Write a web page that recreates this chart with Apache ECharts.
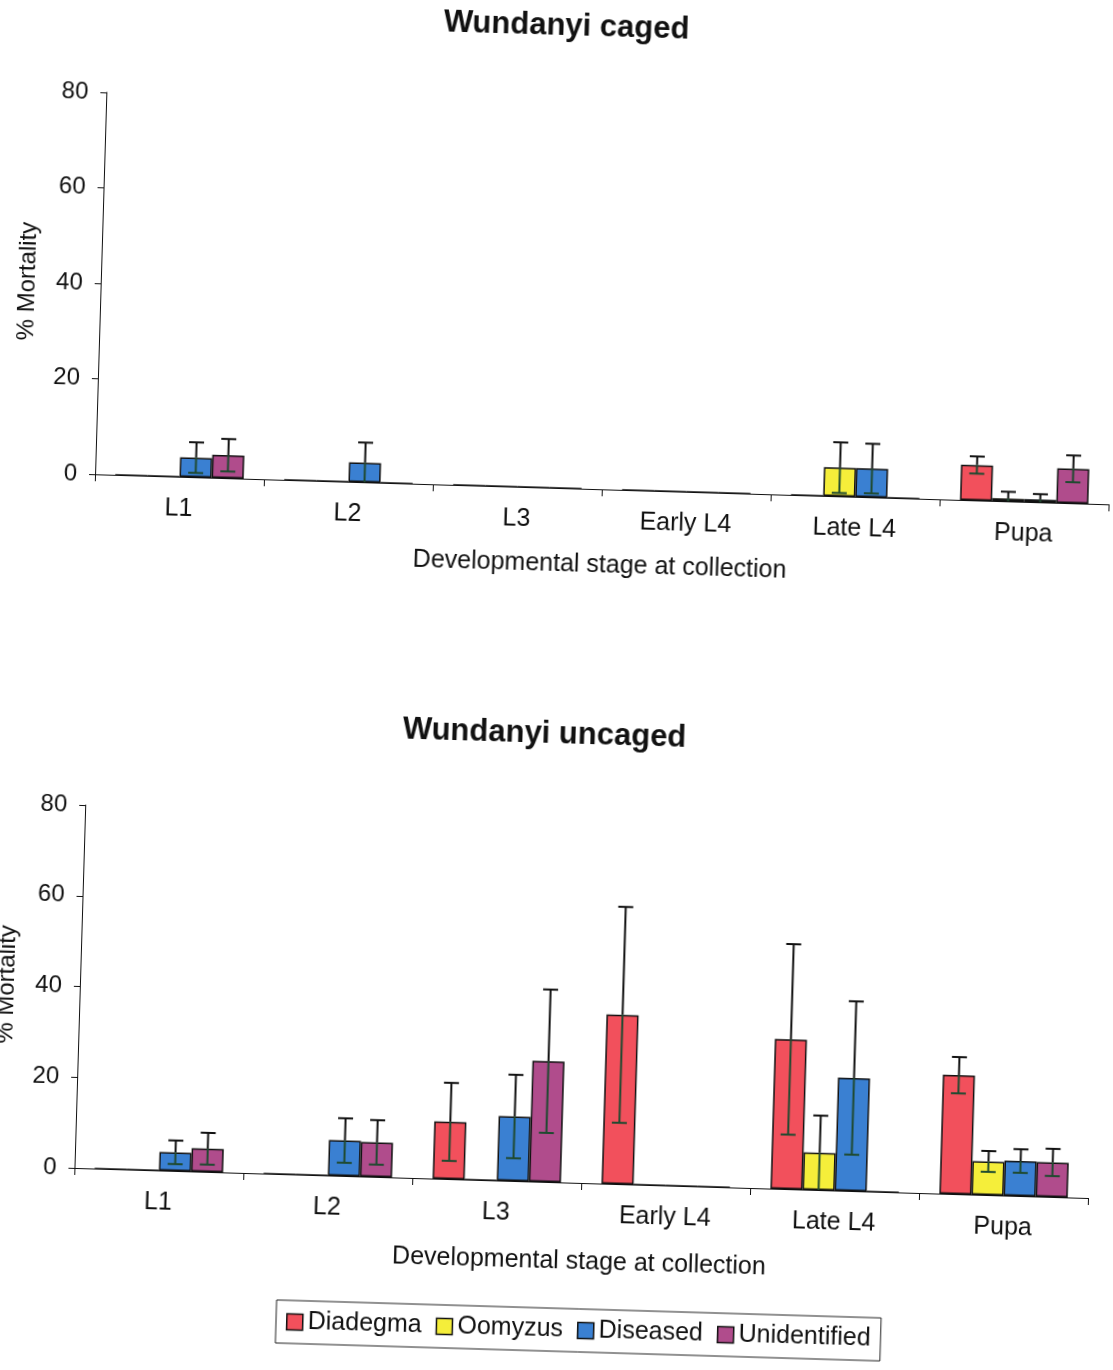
<!DOCTYPE html>
<html>
<head>
<meta charset="utf-8">
<script src="https://cdn.jsdelivr.net/npm/echarts@6/dist/echarts.min.js"></script>
<style>
  html, body { margin: 0; padding: 0; background: #fff; overflow: hidden; }
  #chart { width: 1113px; height: 1370px; transform: rotate(1.7deg); transform-origin: 556px 685px; }
</style>
</head>
<body>
<div id="chart"></div>
<script>
// ---- data ----
const categories = ['L1', 'L2', 'L3', 'Early L4', 'Late L4', 'Pupa'];
const seriesNames = ['Diadegma', 'Oomyzus', 'Diseased', 'Unidentified'];
const yTicks = [0, 20, 40, 60, 80];

// Wundanyi caged
const cagedDiadegma        = [0, 0, 0, 0, 0, 7.4];
const cagedDiadegmaErr     = [0, 0, 0, 0, 0, 1.8];
const cagedOomyzus         = [0, 0, 0, 0, 6.0, 0.6];
const cagedOomyzusErr      = [0, 0, 0, 0, 5.3, 1.4];
const cagedDiseased        = [4.1, 4.1, 0, 0, 6.0, 0.6];
const cagedDiseasedErr     = [3.2, 4.2, 0, 0, 5.2, 1.1];
const cagedUnidentified    = [4.8, 0, 0, 0, 0, 7.2];
const cagedUnidentifiedErr = [3.4, 0, 0, 0, 0, 2.8];

// Wundanyi uncaged
const uncagedDiadegma        = [0, 0, 12.6, 37.3, 33.0, 26.2];
const uncagedDiadegmaErr     = [0, 0, 8.6, 23.8, 21.0, 4.0];
const uncagedOomyzus         = [0, 0, 0, 0, 8.2, 7.4];
const uncagedOomyzusErr      = [0, 0, 0, 0, 8.2, 2.3];
const uncagedDiseased        = [4.1, 7.8, 14.2, 0, 24.9, 7.7];
const uncagedDiseasedErr     = [2.6, 4.9, 9.2, 0, 16.9, 2.6];
const uncagedUnidentified    = [5.1, 7.6, 26.6, 0, 0, 7.6];
const uncagedUnidentifiedErr = [3.5, 4.9, 15.8, 0, 0, 3.0];

// ---- styles ----
const colors = ['#f2505c', '#f5ee3a', '#3a80d2', '#b04c8c'];
const FONT = "'Liberation Sans', Arial, sans-serif";
const INK = '#111';
const CAT_GAP = 0.24;

const cagedVals = [cagedDiadegma, cagedOomyzus, cagedDiseased, cagedUnidentified];
const cagedErrs = [cagedDiadegmaErr, cagedOomyzusErr, cagedDiseasedErr, cagedUnidentifiedErr];
const uncagedVals = [uncagedDiadegma, uncagedOomyzus, uncagedDiseased, uncagedUnidentified];
const uncagedErrs = [uncagedDiadegmaErr, uncagedOomyzusErr, uncagedDiseasedErr, uncagedUnidentifiedErr];

function errItems(vals, errs) {
  const out = [];
  vals.forEach((arr, si) => arr.forEach((v, ci) => out.push([ci, si, v, errs[si][ci]])));
  return out;
}

function renderErr(params, api) {
  const cat = api.value(0), si = api.value(1), v = api.value(2), e = api.value(3);
  if (!(e > 0)) return null;
  const band = api.size([1, 0])[0];
  const bw = band * (1 - CAT_GAP) / 4;
  const cx = api.coord([cat, 0])[0] + (si - 1.5) * bw;
  const yHi = api.coord([cat, v + e])[1];
  const yV = api.coord([cat, v])[1];
  const lo = Math.max(0, v - e);
  const yLo = api.coord([cat, lo])[1];
  const cw = 7.5;
  const black = { stroke: '#111', lineWidth: 2 };
  const green = { stroke: '#1f4a30', lineWidth: 2 };
  const children = [
    { type: 'line', shape: { x1: cx, y1: yV, x2: cx, y2: yHi }, style: black },
    { type: 'line', shape: { x1: cx - cw, y1: yHi, x2: cx + cw, y2: yHi }, style: black },
    { type: 'line', shape: { x1: cx, y1: yLo, x2: cx, y2: yV }, style: green }
  ];
  if (lo > 0) children.push({ type: 'line', shape: { x1: cx - cw, y1: yLo, x2: cx + cw, y2: yLo }, style: green });
  return { type: 'group', children };
}

function xAxis(gi, gap) {
  return {
    type: 'category', gridIndex: gi, data: categories,
    axisLine: { lineStyle: { color: INK, width: 1 } },
    axisTick: { show: true, length: 7, lineStyle: { color: INK } },
    axisLabel: { color: INK, fontSize: 25, margin: 20, fontFamily: FONT },
    name: 'Developmental stage at collection', nameLocation: 'middle', nameGap: gap,
    nameTextStyle: { color: INK, fontSize: 25, fontFamily: FONT }
  };
}
function yAxis(gi) {
  return {
    type: 'value', gridIndex: gi, min: yTicks[0], max: yTicks[yTicks.length - 1], interval: yTicks[1] - yTicks[0],
    axisLine: { show: true, lineStyle: { color: INK, width: 1 } },
    axisTick: { show: true, length: 6, lineStyle: { color: INK } },
    splitLine: { show: false },
    axisLabel: { color: INK, fontSize: 24, margin: 18, fontFamily: FONT },
    name: '% Mortality', nameLocation: 'middle', nameGap: 61,
    nameTextStyle: { color: INK, fontSize: 24, fontFamily: FONT }
  };
}

const series = [];
[[cagedVals, cagedErrs, 0], [uncagedVals, uncagedErrs, 1]].forEach(([vals, errs, gi]) => {
  vals.forEach((arr, si) => {
    series.push({
      type: 'bar', name: seriesNames[si], xAxisIndex: gi, yAxisIndex: gi,
      data: arr, barGap: '0%', barCategoryGap: (CAT_GAP * 100) + '%',
      itemStyle: { color: colors[si], borderColor: '#111', borderWidth: 1.5 },
      animation: false
    });
  });
  series.push({
    type: 'custom', xAxisIndex: gi, yAxisIndex: gi, z: 5,
    data: errItems(vals, errs), encode: { x: 0, y: 2 },
    renderItem: renderErr, animation: false, silent: true
  });
});

const chart = echarts.init(document.getElementById('chart'), null, { renderer: 'canvas' });
chart.setOption({
  backgroundColor: '#fff',
  animation: false,
  textStyle: { fontFamily: FONT },
  title: [
    { text: 'Wundanyi caged', left: 547, textAlign: 'center', top: 11, padding: 0,
      textStyle: { fontSize: 31, fontWeight: 'bold', color: INK, fontFamily: FONT } },
    { text: 'Wundanyi uncaged', left: 546, textAlign: 'center', top: 719, padding: 0,
      textStyle: { fontSize: 31, fontWeight: 'bold', color: INK, fontFamily: FONT } }
  ],
  legend: {
    data: seriesNames, left: 295, top: 1308, orient: 'horizontal',
    icon: 'rect', itemWidth: 16, itemHeight: 16, itemGap: 14,
    padding: [9, 10], borderColor: '#222', borderWidth: 1,
    itemStyle: { borderColor: '#111', borderWidth: 1.5 },
    textStyle: { fontSize: 25, color: INK, fontFamily: FONT }
  },
  grid: [
    { left: 89, right: 10, top: 106, height: 382, outerBoundsMode: 'none', containLabel: false },
    { left: 89, right: 10, top: 819, height: 363, outerBoundsMode: 'none', containLabel: false }
  ],
  xAxis: [xAxis(0, 64), xAxis(1, 67)],
  yAxis: [yAxis(0), yAxis(1)],
  series: series
});
</script>
</body>
</html>
